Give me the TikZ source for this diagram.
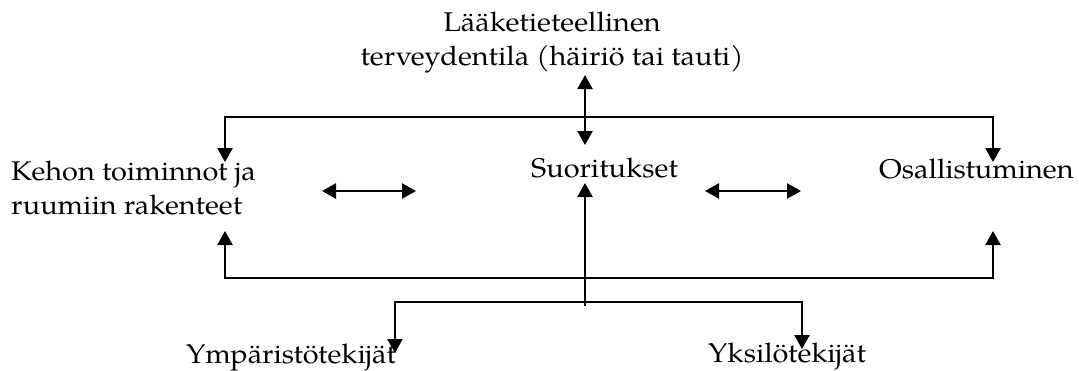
\documentclass[tikz,border=0pt]{standalone}
\usepackage{fontspec}
\setmainfont[FakeStretch=1.07]{TeX Gyre Pagella}
\usetikzlibrary{arrows.meta}

\begin{document}
\begin{tikzpicture}[x=1pt, y=-1pt, line width=2.4pt,
    arr/.style={-{Triangle[length=14pt, width=15pt]}},
    darr/.style={{Triangle[length=14pt, width=15pt]}-{Triangle[length=14pt, width=15pt]}},
    lbl/.style={inner sep=0pt, anchor=base west, font=\fontsize{27}{34}\selectfont}]
        \useasboundingbox (0,0) rectangle (1079,370);

        \node[lbl, anchor=base, align=center] (health) at (552,65) {Lääketieteellinen\\terveydentila (häiriö tai tauti)};
        \node[lbl, align=left] (body) at (10,214) {Kehon toiminnot ja\\ruumiin rakenteet};
        \node[lbl] (act) at (530,177) {Suoritukset};
        \node[lbl] (part) at (878,178) {Osallistuminen};
        \node[lbl] (env) at (185,363) {Ympäristötekijät};
        \node[lbl] (pers) at (707,362) {Yksilötekijät};

        \coordinate (hup) at (585,75);
        \coordinate (hdown) at (585,145);
        \coordinate (topbar) at (585,117);
        \coordinate (bodyin) at (225,162);
        \coordinate (partin) at (993,162);
        \coordinate (botbar) at (585,278);
        \coordinate (bodyout) at (225,231);
        \coordinate (partout) at (993,231);
        \coordinate (fork) at (585,306);
        \coordinate (actin) at (585,183);
        \coordinate (lowbar) at (585,302);
        \coordinate (envin) at (395,353);
        \coordinate (persin) at (802,349);

        \draw[darr] (hup) -- (hdown);
        \draw[darr] (bodyin) |- (topbar) -| (partin);
        \draw[darr] (bodyout) |- (botbar) -| (partout);
        \draw[arr] (fork) -- (actin);
        \draw[darr] (envin) |- (lowbar) -| (persin);
        \draw[darr] (322,191) -- (416,191);
        \draw[darr] (705,191) -- (801,191);
    \end{tikzpicture}
\end{document}
